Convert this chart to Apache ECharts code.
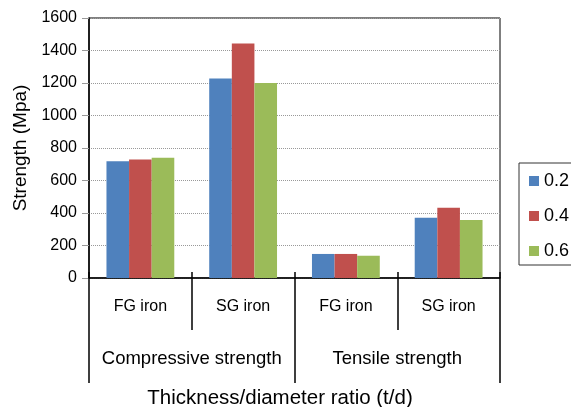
<!DOCTYPE html>
<html>
<head>
<meta charset="utf-8">
<script src="https://cdn.jsdelivr.net/npm/echarts@6/dist/echarts.min.js"></script>
<style>html,body{margin:0;padding:0;background:#fff}#c{width:571px;height:407px}</style>
</head>
<body>
<div id="c"></div>
<script>
var categories = ['FG iron', 'SG iron', 'FG iron', 'SG iron'];
var groups = ['Compressive strength', 'Tensile strength'];
var seriesNames = ['0.2', '0.4', '0.6'];
var s02 = [718, 1228, 148, 371];
var s04 = [730, 1443, 148, 433];
var s06 = [740, 1200, 137, 357];
var yTicks = {min: 0, max: 1600, interval: 200};
var xTitle = 'Thickness/diameter ratio (t/d)';
var colors = ['#4F81BD', '#C0504D', '#9BBB59'];
var FONT = '"Liberation Sans", Arial, Helvetica, sans-serif';

var chart = echarts.init(document.getElementById('c'));
var values = [s02, s04, s06];
chart.setOption({
  animation: false,
  textStyle: {fontFamily: FONT},
  grid: {left: 89, right: 71, top: 18, bottom: 129, show: true, borderColor: '#000', borderWidth: 1, backgroundColor: 'transparent'},
  legend: {
    orient: 'vertical', left: 519, top: 163,
    itemWidth: 10, itemHeight: 10, itemGap: 17,
    padding: [9, 12, 5, 10],
    borderColor: '#333', borderWidth: 1,
    icon: 'rect',
    textStyle: {fontSize: 18, color: '#000', fontFamily: FONT, lineHeight: 18},
    data: seriesNames
  },
  xAxis: [
    {
      type: 'category', data: categories, position: 'bottom',
      axisLine: {show: true, lineStyle: {color: '#000', width: 1.5}},
      axisTick: {show: true, length: 52, interval: 0, lineStyle: {color: '#000', width: 1.5}},
      axisLabel: {fontSize: 16, color: '#000', margin: 21, interval: 0, fontFamily: FONT},
      splitLine: {show: false}
    },
    {
      type: 'category', data: groups, position: 'bottom', gridIndex: 0,
      axisLine: {show: false},
      axisTick: {show: true, length: 105, interval: 0, lineStyle: {color: '#000', width: 1.5}},
      axisLabel: {fontSize: 18.5, color: '#000', margin: 71, interval: 0, fontFamily: FONT},
      splitLine: {show: false}
    },
    {
      type: 'category', data: categories, position: 'bottom', gridIndex: 0,
      axisLine: {show: false},
      axisTick: {show: true, inside: true, length: 6, interval: 0, lineStyle: {color: '#000', width: 1.5}},
      axisLabel: {show: false},
      splitLine: {show: false}
    }
  ],
  yAxis: {
    type: 'value', min: yTicks.min, max: yTicks.max, interval: yTicks.interval,
    name: 'Strength (Mpa)', nameLocation: 'middle', nameGap: 58,
    nameTextStyle: {fontSize: 19, color: '#000', fontFamily: FONT},
    axisLine: {show: true, lineStyle: {color: '#000', width: 1.5}},
    axisTick: {show: true, length: 7, lineStyle: {color: '#999'}},
    axisLabel: {fontSize: 16, color: '#000', margin: 12, fontFamily: FONT, formatter: function (v) { return String(v); }},
    splitLine: {show: true, lineStyle: {color: '#999', type: 'dotted', width: 1}}
  },
  graphic: [{
    type: 'text', x: 280, y: 398,
    style: {text: xTitle, fontSize: 20.5, fill: '#000', fontFamily: FONT, align: 'center', verticalAlign: 'middle'}
  }],
  series: seriesNames.map(function (n, i) {
    return {
      name: n, type: 'bar', data: values[i], xAxisIndex: 0,
      barGap: '0%', barCategoryGap: '34%',
      itemStyle: {color: colors[i]}
    };
  })
});
</script>
</body>
</html>
